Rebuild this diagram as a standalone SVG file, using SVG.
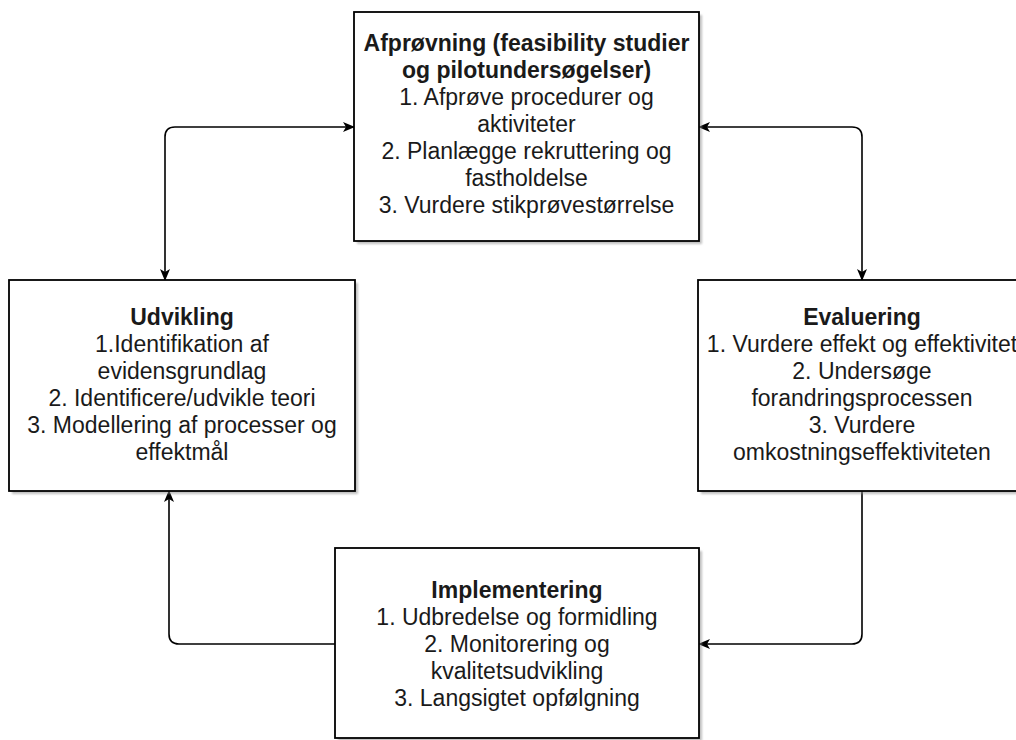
<svg xmlns="http://www.w3.org/2000/svg" width="1016" height="740" viewBox="0 0 1016 740">
  <defs>
    <filter id="soft" x="-5%" y="-5%" width="110%" height="110%">
      <feGaussianBlur stdDeviation="1.2"/>
    </filter>
    <marker id="arrow" viewBox="0 0 12 10" refX="11" refY="5" markerWidth="12" markerHeight="10" markerUnits="userSpaceOnUse" orient="auto-start-reverse">
      <path d="M0,0 L12,5 L0,10 L3,5 Z" fill="#000"/>
    </marker>
    <style>
      .box { fill: #ffffff; stroke: #000; stroke-width: 1.8; }
      .shadow { fill: #8c8c8c; opacity: 0.55; filter: url(#soft); }
      .edge { fill: none; stroke: #000; stroke-width: 1.6; }
      text { font-family: "Liberation Sans", Arial, Helvetica, sans-serif; font-size: 23px; fill: #1a1a1a; text-anchor: middle; }
      .title { font-weight: bold; }
    </style>
  </defs>

  <!-- connectors -->
  <g id="connectors">
    <path class="edge" d="M165,280 L165,137 Q165,127 175,127 L354,127" marker-start="url(#arrow)" marker-end="url(#arrow)"/>
    <path class="edge" d="M699,127 L852,127 Q862,127 862,137 L862,280" marker-start="url(#arrow)" marker-end="url(#arrow)"/>
    <path class="edge" d="M862,491 L862,634 Q862,644 852,644 L699,644" marker-end="url(#arrow)"/>
    <path class="edge" d="M335,644 L179,644 Q169,644 169,634 L169,491" marker-end="url(#arrow)"/>
  </g>

  <!-- feasibility / pilot node -->
  <g id="afproevning">
    <rect class="shadow" x="357" y="15" width="345" height="229"/>
    <rect class="box" x="354" y="12" width="345" height="229"/>
    <text class="title" x="526.5" y="51">Afprøvning (feasibility studier</text>
    <text class="title" x="526.5" y="78">og pilotundersøgelser)</text>
    <text x="526.5" y="105">1. Afprøve procedurer og</text>
    <text x="526.5" y="132">aktiviteter</text>
    <text x="526.5" y="159">2. Planlægge rekruttering og</text>
    <text x="526.5" y="186">fastholdelse</text>
    <text x="526.5" y="213">3. Vurdere stikprøvestørrelse</text>
  </g>

  <!-- development node -->
  <g id="udvikling">
    <rect class="shadow" x="12" y="283" width="346" height="211"/>
    <rect class="box" x="9" y="280" width="346" height="211"/>
    <text class="title" x="182" y="325">Udvikling</text>
    <text x="182" y="352">1.Identifikation af</text>
    <text x="182" y="379">evidensgrundlag</text>
    <text x="182" y="406">2. Identificere/udvikle teori</text>
    <text x="182" y="433">3. Modellering af processer og</text>
    <text x="182" y="460">effektmål</text>
  </g>

  <!-- evaluation node -->
  <g id="evaluering">
    <rect class="shadow" x="701" y="283" width="330" height="211"/>
    <rect class="box" x="698" y="280" width="330" height="211"/>
    <text class="title" x="862" y="325">Evaluering</text>
    <text x="862" y="352">1. Vurdere effekt og effektivitet</text>
    <text x="862" y="379">2. Undersøge</text>
    <text x="862" y="406">forandringsprocessen</text>
    <text x="862" y="433">3. Vurdere</text>
    <text x="862" y="460">omkostningseffektiviteten</text>
  </g>

  <!-- implementation node -->
  <g id="implementering">
    <rect class="shadow" x="338" y="551" width="364" height="190"/>
    <rect class="box" x="335" y="548" width="364" height="190"/>
    <text class="title" x="517" y="598">Implementering</text>
    <text x="517" y="625">1. Udbredelse og formidling</text>
    <text x="517" y="652">2. Monitorering og</text>
    <text x="517" y="679">kvalitetsudvikling</text>
    <text x="517" y="706">3. Langsigtet opfølgning</text>
  </g>
</svg>
